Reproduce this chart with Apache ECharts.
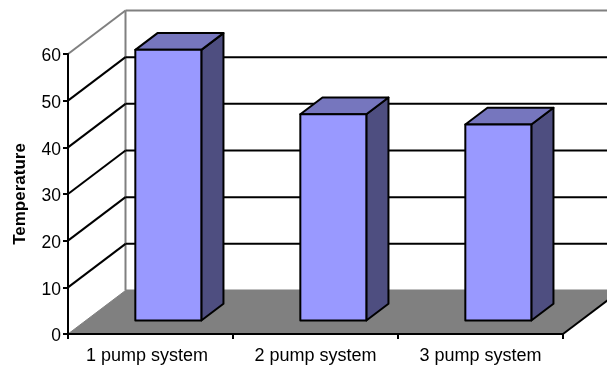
<!DOCTYPE html>
<html><head><meta charset="utf-8">
<style>html,body{margin:0;padding:0;background:#fff}#c{width:607px;height:365px}</style>
<script src="https://cdn.jsdelivr.net/npm/echarts@6/dist/echarts.min.js"></script>
</head><body><div id="c"></div>
<script>
const categories = ['1 pump system', '2 pump system', '3 pump system'];
const temperatures = [58, 44.2, 42];
const yTicks = [0, 10, 20, 30, 40, 50, 60];

const DX = 57.5, DY = -43.5;           // oblique projection of full floor depth
const GAP = 1.5;                       // gap width (bar widths)
const DEPTH_START = 0.31, DEPTH = 0.385;
const FRONT = '#9999FF', TOP = '#7676BE', SIDE = '#4E4E80', FLOOR = '#808080', WALL = '#808080';
const FONT = '"Liberation Sans", Arial, sans-serif';

function poly(points, fill, stroke, w) {
  return { type: 'polygon', shape: { points }, style: { fill, stroke: stroke || null, lineWidth: w || 0, lineJoin: 'round' } };
}
function line(a, b, stroke, w) {
  return { type: 'line', shape: { x1: a[0], y1: a[1], x2: b[0], y2: b[1] }, style: { stroke, lineWidth: w, fill: null } };
}

function renderFrame(params, api) {
  const band = api.size([1, 0])[0];
  const left = api.coord([0, 0])[0] - band / 2;
  const right = left + band * categories.length;
  const yOf = v => api.coord([0, v])[1];
  const kids = [];
  const y0 = yOf(0), yTop = yOf(yTicks[yTicks.length - 1]);
  kids.push(poly([[left, y0], [right, y0], [right + DX, y0 + DY], [left + DX, y0 + DY]], FLOOR));
  kids.push(line([left, y0], [left + DX, y0 + DY], WALL, 1));
  kids.push(line([left + DX, y0 + DY], [right + DX, y0 + DY], WALL, 2));
  kids.push(line([left + DX, y0 + DY], [left + DX, yTop + DY], WALL, 2));
  kids.push(line([left, yTop], [left + DX, yTop + DY], WALL, 2));
  kids.push(line([left + DX, yTop + DY], [right + DX, yTop + DY], WALL, 2));
  yTicks.slice(1, -1).forEach(v => {
    const y = yOf(v);
    kids.push(line([left, y], [left + DX, y + DY], '#000', 2));
    kids.push(line([left + DX, y + DY], [right + DX, y + DY], '#000', 2));
  });
  kids.push(line([right, y0], [right + DX, y0 + DY], '#000', 2));
  return { type: 'group', children: kids };
}

function renderBar(params, api) {
  const band = api.size([1, 0])[0];
  const w = band / (1 + GAP);
  const c = api.coord([api.value(0), api.value(1)]);
  const y0 = api.coord([api.value(0), 0])[1];
  const ox = DX * DEPTH_START, oy = DY * DEPTH_START;
  const dx = DX * DEPTH, dy = DY * DEPTH;
  const l = c[0] - w / 2 + ox, r = l + w, t = c[1] + oy, b = y0 + oy;
  const S = '#000', LW = 2;
  return { type: 'group', children: [
    poly([[r, t], [r + dx, t + dy], [r + dx, b + dy], [r, b]], SIDE, S, LW),
    poly([[l, t], [l + dx, t + dy], [r + dx, t + dy], [r, t]], TOP, S, LW),
    poly([[l, t], [r, t], [r, b], [l, b]], FRONT, S, LW)
  ] };
}

const chart = echarts.init(document.getElementById('c'), null, { renderer: 'canvas' });
chart.setOption({
  animation: false,
  backgroundColor: '#fff',
  textStyle: { fontFamily: FONT },
  grid: { left: 68, right: 44, top: 54, bottom: 31, containLabel: false, outerBoundsMode: 'none' },
  xAxis: {
    type: 'category',
    data: categories.map((c, i) => i === 0 ? { value: c, textStyle: { padding: [0, 7, 0, 0] } } : c),
    axisLine: { onZero: false, lineStyle: { color: '#000', width: 2 } },
    axisTick: { show: true, length: 5, lineStyle: { color: '#000', width: 2 } },
    axisLabel: { color: '#000', fontSize: 18, margin: 13, fontFamily: FONT, interval: 0 },
    splitLine: { show: false }, z: 5
  },
  yAxis: {
    type: 'value', min: 0, max: 60, interval: 10,
    name: 'Temperature', nameLocation: 'middle', nameGap: 39, nameRotate: 90,
    nameTextStyle: { color: '#000', fontSize: 17, fontWeight: 'bold', fontFamily: FONT },
    axisLine: { show: true, lineStyle: { color: '#000', width: 2 } },
    axisTick: { show: true, length: 5, lineStyle: { color: '#000', width: 2 } },
    axisLabel: {
      color: '#000', margin: 7, fontFamily: FONT,
      formatter: '{n|{value}}',
      rich: { n: { fontSize: 17.5, color: '#000', fontFamily: FONT, padding: [5, 0, 0, 0] } }
    },
    splitLine: { show: false }, z: 5
  },
  series: [
    { type: 'custom', coordinateSystem: 'cartesian2d', renderItem: renderFrame, data: [[0, 0]], clip: false, z: 1, silent: true },
    { type: 'custom', coordinateSystem: 'cartesian2d', renderItem: renderBar, clip: false, z: 2, silent: true,
      data: categories.map((c, i) => [i, temperatures[i]]) }
  ]
});
</script></body></html>
